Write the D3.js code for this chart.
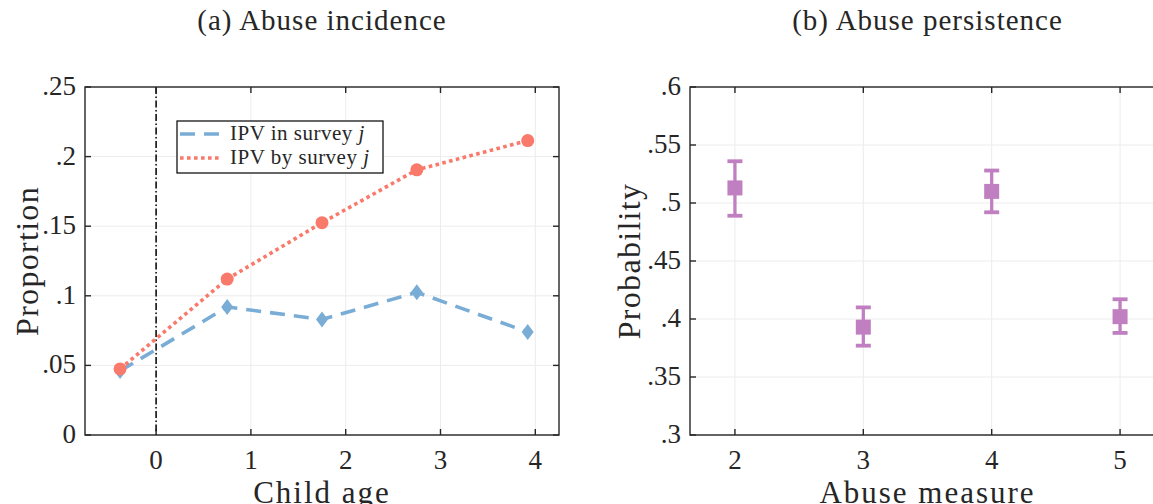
<!DOCTYPE html>
<html>
<head>
<meta charset="utf-8">
<script src="https://cdn.jsdelivr.net/npm/d3@7"></script>
<style>
  body { margin: 0; background: #fff; }
  text { font-family: "Liberation Serif", serif; fill: #262626; }
</style>
</head>
<body>
<div id="chart"></div>
<script>
// panel (a) data
let ageX = [-0.38, 0.75, 1.75, 2.75, 3.92];
let ipvIn = [0.046, 0.092, 0.083, 0.1025, 0.074];
let ipvBy = [0.0475, 0.112, 0.1525, 0.1905, 0.2115];
let ageTicks = [0, 1, 2, 3, 4];
let propTicks = [0, 0.05, 0.1, 0.15, 0.2, 0.25];
let propLabels = ['0', '.05', '.1', '.15', '.2', '.25'];
let legendNames = ['IPV in survey ', 'IPV by survey '];

// panel (b) data
let measures = [2, 3, 4, 5];
let persist = [0.513, 0.393, 0.510, 0.402];
let lowerCI = [0.489, 0.377, 0.492, 0.388];
let upperCI = [0.536, 0.410, 0.528, 0.417];
let probTicks = [0.3, 0.35, 0.4, 0.45, 0.5, 0.55, 0.6];
let probLabels = ['.3', '.35', '.4', '.45', '.5', '.55', '.6'];

let blue = '#7aadd6', red = '#f9796b', purple = '#c07fc0';
let axisColor = '#262626', gridColor = '#ececec';

let svg = d3.select('#chart').append('svg')
  .attr('width', 1153).attr('height', 504);

let plotTop = 87, plotBottom = 435;

// grid lines under everything
function frame(x, y, xTicks, yTicks) {
  let g = svg.append('g');
  let [x0, x1] = x.range();
  g.selectAll('.gx').data(xTicks).enter().append('line')
    .attr('x1', d => x(d)).attr('x2', d => x(d))
    .attr('y1', plotTop).attr('y2', plotBottom)
    .attr('stroke', gridColor).attr('stroke-width', 1);
  g.selectAll('.gy').data(yTicks).enter().append('line')
    .attr('x1', x0).attr('x2', x1)
    .attr('y1', d => y(d)).attr('y2', d => y(d))
    .attr('stroke', gridColor).attr('stroke-width', 1);
  return g;
}

// box, inward ticks on all sides, tick labels
function box(g, x, y, xTicks, yTicks, yLabels) {
  let [x0, x1] = x.range();
  let tl = 6;
  g.append('rect')
    .attr('x', x0).attr('y', plotTop)
    .attr('width', x1 - x0).attr('height', plotBottom - plotTop)
    .attr('fill', 'none').attr('stroke', axisColor).attr('stroke-width', 1.4);
  xTicks.forEach(function (t) {
    g.append('line').attr('x1', x(t)).attr('x2', x(t))
      .attr('y1', plotBottom).attr('y2', plotBottom - tl)
      .attr('stroke', axisColor).attr('stroke-width', 1.4);
    g.append('line').attr('x1', x(t)).attr('x2', x(t))
      .attr('y1', plotTop).attr('y2', plotTop + tl)
      .attr('stroke', axisColor).attr('stroke-width', 1.4);
    g.append('text').attr('x', x(t)).attr('y', plotBottom + 34)
      .attr('text-anchor', 'middle').attr('font-size', 27).text(t);
  });
  yTicks.forEach(function (t, i) {
    g.append('line').attr('x1', x0).attr('x2', x0 + tl)
      .attr('y1', y(t)).attr('y2', y(t))
      .attr('stroke', axisColor).attr('stroke-width', 1.4);
    g.append('line').attr('x1', x1).attr('x2', x1 - tl)
      .attr('y1', y(t)).attr('y2', y(t))
      .attr('stroke', axisColor).attr('stroke-width', 1.4);
    g.append('text').attr('x', x0 - 9).attr('y', y(t) + 8)
      .attr('text-anchor', 'end').attr('font-size', 27).text(yLabels[i]);
  });
}

function labels(g, x, title, xLab, yLab, yLabX) {
  let [x0, x1] = x.range();
  g.append('text').attr('x', (x0 + x1) / 2).attr('y', 30)
    .attr('text-anchor', 'middle').attr('font-size', 29)
    .attr('letter-spacing', 1).text(title);
  g.append('text').attr('x', (x0 + x1) / 2).attr('y', 503)
    .attr('text-anchor', 'middle').attr('font-size', 31)
    .attr('letter-spacing', 2).text(xLab);
  g.append('text')
    .attr('transform', 'translate(' + yLabX + ',' + (plotTop + plotBottom) / 2 + ') rotate(-90)')
    .attr('text-anchor', 'middle').attr('font-size', 32)
    .attr('letter-spacing', 1.3).text(yLab);
}

// ---------- panel (a)
let xa = d3.scaleLinear().domain([-0.75, 4.25]).range([85, 559]);
let ya = d3.scaleLinear().domain([0, 0.25]).range([plotBottom, plotTop]);
let ga = frame(xa, ya, ageTicks, propTicks);

// vertical line at age 0
ga.append('line')
  .attr('x1', xa(0)).attr('x2', xa(0)).attr('y1', plotTop).attr('y2', plotBottom)
  .attr('stroke', '#000').attr('stroke-width', 1.5)
  .attr('stroke-dasharray', '7,2.5,1.5,2.5');

let lineA = d3.line().x((d, i) => xa(ageX[i])).y(d => ya(d));

ga.append('path').datum(ipvIn).attr('d', lineA)
  .attr('fill', 'none').attr('stroke', blue).attr('stroke-width', 3.6)
  .attr('stroke-dasharray', '15,9');
ga.selectAll('.dia').data(ipvIn).enter().append('path')
  .attr('d', 'M0,-8L6,0L0,8L-6,0Z')
  .attr('transform', (d, i) => 'translate(' + xa(ageX[i]) + ',' + ya(d) + ')')
  .attr('fill', blue);

ga.append('path').datum(ipvBy).attr('d', lineA)
  .attr('fill', 'none').attr('stroke', red).attr('stroke-width', 3.6)
  .attr('stroke-dasharray', '3.6,3.4');
ga.selectAll('.dot').data(ipvBy).enter().append('circle')
  .attr('cx', (d, i) => xa(ageX[i])).attr('cy', d => ya(d))
  .attr('r', 6.5).attr('fill', red);

box(ga, xa, ya, ageTicks, propTicks, propLabels);

// legend
let lg = ga.append('g').attr('transform', 'translate(177,121)');
lg.append('rect').attr('width', 206).attr('height', 52)
  .attr('fill', '#fff').attr('stroke', '#000').attr('stroke-width', 1.2);
let styles = [[blue, '15,9'], [red, '3.6,3.4']];
legendNames.forEach(function (name, i) {
  let yy = 13 + i * 24;
  lg.append('line').attr('x1', 3).attr('x2', 43).attr('y1', yy).attr('y2', yy)
    .attr('stroke', styles[i][0]).attr('stroke-width', 3.6)
    .attr('stroke-dasharray', styles[i][1]);
  let t = lg.append('text').attr('x', 53).attr('y', yy + 6)
    .attr('font-size', 21).attr('letter-spacing', 0.5).text(name);
  t.append('tspan').attr('font-style', 'italic').text('j');
});

labels(ga, xa, '(a) Abuse incidence', 'Child age', 'Proportion', 38);

// ---------- panel (b)
let xb = d3.scaleLinear().domain([1.65, 5.35]).range([690, 1165]);
let yb = d3.scaleLinear().domain([0.3, 0.6]).range([plotBottom, plotTop]);
let gb = frame(xb, yb, measures, probTicks);

let cap = 7.5;
measures.forEach(function (m, i) {
  let cx = xb(m);
  gb.append('line').attr('x1', cx).attr('x2', cx)
    .attr('y1', yb(lowerCI[i])).attr('y2', yb(upperCI[i]))
    .attr('stroke', purple).attr('stroke-width', 3.3);
  [lowerCI[i], upperCI[i]].forEach(function (v) {
    gb.append('line').attr('x1', cx - cap).attr('x2', cx + cap)
      .attr('y1', yb(v)).attr('y2', yb(v))
      .attr('stroke', purple).attr('stroke-width', 3.8);
  });
});
gb.selectAll('.sq').data(persist).enter().append('rect')
  .attr('x', (d, i) => xb(measures[i]) - 7.5).attr('y', d => yb(d) - 7.5)
  .attr('width', 15).attr('height', 15).attr('fill', purple);

box(gb, xb, yb, measures, probTicks, probLabels);
labels(gb, xb, '(b) Abuse persistence', 'Abuse measure', 'Probability', 640);
</script>
</body>
</html>
